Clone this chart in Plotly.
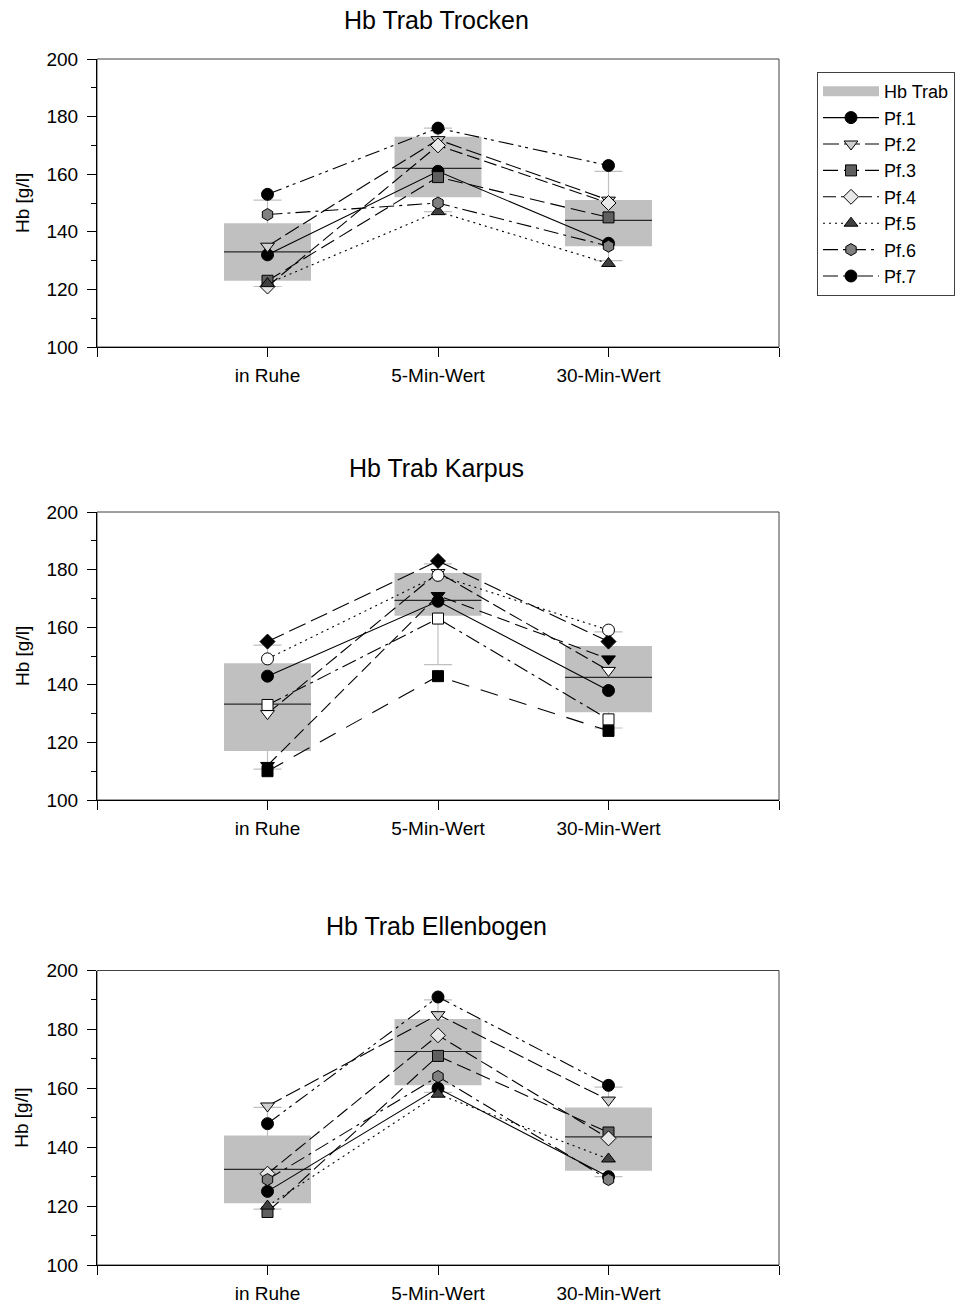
import plotly.graph_objects as go

# ---------------- data ----------------
categories = ["in Ruhe", "5-Min-Wert", "30-Min-Wert"]
cat_pos = [1, 2, 3]
series_names = ["Pf.1", "Pf.2", "Pf.3", "Pf.4", "Pf.5", "Pf.6", "Pf.7"]
panel_titles = ["Hb Trab Trocken", "Hb Trab Karpus", "Hb Trab Ellenbogen"]

# Hb Trab Trocken
trocken_pf = [
    [132, 161, 136],
    [135, 172, 151],
    [123, 159, 145],
    [121, 170, 150],
    [122, 147, 129],
    [146, 150, 135],
    [153, 176, 163],
]
trocken_q1 = [123, 152, 135]
trocken_median = [133, 162, 144]
trocken_q3 = [143, 173, 151]
trocken_low = [121, 147, 130]
trocken_high = [151, 176, 161]

# Hb Trab Karpus
karpus_pf = [
    [143, 169, 138],
    [130, 179, 145],
    [133, 163, 128],
    [155, 183, 155],
    [149, 178, 159],
    [112, 171, 149],
    [110, 143, 124],
]
karpus_q1 = [117, 164, 130.5]
karpus_median = [133.3, 169.3, 142.6]
karpus_q3 = [147.5, 178.8, 153.5]
karpus_low = [110.7, 147, 125]
karpus_high = [153.8, 182, 158.4]

# Hb Trab Ellenbogen
ellenbogen_pf = [
    [125, 160, 130],
    [154, 185, 156],
    [118, 171, 145],
    [131, 178, 143],
    [120, 158, 136],
    [129, 164, 129],
    [148, 191, 161],
]
ellenbogen_q1 = [121, 161, 132]
ellenbogen_median = [132.5, 172.5, 143.5]
ellenbogen_q3 = [144, 183.5, 153.5]
ellenbogen_low = [119, 158.6, 130]
ellenbogen_high = [153.5, 190, 160.4]

# ---------------- styles ----------------
FONT = "Liberation Sans, Arial, sans-serif"
BOX_GRAY = "#c0c0c0"

std_symbols = ["circle", "triangle-down", "square", "diamond", "triangle-up", "hexagon", "circle"]
std_fills = ["#000000", "#cfcfcf", "#5f5f5f", "#e8e8e8", "#404040", "#808080", "#000000"]
std_sizes = [12, 12, 11, 11.5, 12, 12, 12]
std_dashes = ["solid", "16px,5px", "15px,6px", "13px,5px", "2px,4px",
              "15px,5px,3px,5px", "15px,5px,3px,4px,3px,5px"]

karpus_symbols = ["circle", "triangle-down", "square", "diamond", "circle", "triangle-down", "square"]
karpus_fills = ["#000000", "#ffffff", "#ffffff", "#000000", "#ffffff", "#000000", "#000000"]
karpus_sizes = [12, 12, 11, 11.5, 12, 12, 11]
karpus_dashes = ["solid", "14px,5px", "15px,5px,3px,5px", "18px,6px", "2px,4px",
                 "13px,6px", "18px,12px"]

panels = [
    dict(pf=trocken_pf, q1=trocken_q1, med=trocken_median, q3=trocken_q3,
         low=trocken_low, high=trocken_high,
         symbols=std_symbols, fills=std_fills, sizes=std_sizes, dashes=std_dashes),
    dict(pf=karpus_pf, q1=karpus_q1, med=karpus_median, q3=karpus_q3,
         low=karpus_low, high=karpus_high,
         symbols=karpus_symbols, fills=karpus_fills, sizes=karpus_sizes, dashes=karpus_dashes),
    dict(pf=ellenbogen_pf, q1=ellenbogen_q1, med=ellenbogen_median, q3=ellenbogen_q3,
         low=ellenbogen_low, high=ellenbogen_high,
         symbols=std_symbols, fills=std_fills, sizes=std_sizes, dashes=std_dashes),
]

W, H = 963, 1304
x_dom = [97 / W, 779 / W]
# plot-area pixel rows (top, bottom) of each panel, and title rows
panel_px = [(59, 347), (512, 800), (970.5, 1265)]
title_px = [20, 468, 926]
y_doms = [[1 - b / H, 1 - t / H] for t, b in panel_px]

fig = go.Figure()

for k, p in enumerate(panels):
    xa = "x" if k == 0 else f"x{k + 1}"
    ya = "y" if k == 0 else f"y{k + 1}"
    first = k == 0

    # interquartile box of the group
    fig.add_trace(go.Bar(
        x=cat_pos, y=[h - l for h, l in zip(p["q3"], p["q1"])], base=p["q1"],
        width=0.51, marker=dict(color=BOX_GRAY, line=dict(width=0)),
        showlegend=False, xaxis=xa, yaxis=ya, hoverinfo="skip",
    ))
    # whiskers + median line
    fig.add_trace(go.Scatter(
        x=cat_pos, y=p["med"], mode="markers",
        marker=dict(size=1, opacity=0),
        error_y=dict(type="data", symmetric=False,
                     array=[h - m for h, m in zip(p["high"], p["med"])],
                     arrayminus=[m - l for m, l in zip(p["med"], p["low"])],
                     color=BOX_GRAY, thickness=1.2, width=14),
        error_x=dict(type="constant", value=0.255, color="#2a2a2a", thickness=1.2, width=0),
        showlegend=False, xaxis=xa, yaxis=ya, hoverinfo="skip",
    ))
    if first:
        # legend key for the grey group box
        fig.add_trace(go.Scatter(
            x=[None], y=[None], mode="lines", name="Hb Trab",
            line=dict(color=BOX_GRAY, width=12),
            xaxis=xa, yaxis=ya,
        ))
    for i, vals in enumerate(p["pf"]):
        fig.add_trace(go.Scatter(
            x=cat_pos, y=vals, mode="lines+markers", name=series_names[i],
            line=dict(color="black", width=1.1, dash=p["dashes"][i]),
            marker=dict(symbol=p["symbols"][i], size=p["sizes"][i],
                        color=p["fills"][i], line=dict(color="black", width=1)),
            showlegend=first,
            xaxis=xa, yaxis=ya,
        ))

layout = dict(
    width=W, height=H,
    margin=dict(l=0, r=0, t=0, b=0, autoexpand=False),
    paper_bgcolor="white", plot_bgcolor="white",
    font=dict(family=FONT, size=19, color="black"),
    showlegend=True,
    barmode="overlay",
    legend=dict(
        x=817 / W, y=1 - 72 / H, xanchor="left", yanchor="top",
        bgcolor="white", bordercolor="#404040", borderwidth=1,
        font=dict(family=FONT, size=18, color="black"),
        itemwidth=56, traceorder="normal",
    ),
    shapes=[],
    annotations=[],
)

for k in range(3):
    xk = "xaxis" if k == 0 else f"xaxis{k + 1}"
    yk = "yaxis" if k == 0 else f"yaxis{k + 1}"
    ya = "y" if k == 0 else f"y{k + 1}"
    xa = "x" if k == 0 else f"x{k + 1}"
    layout[xk] = dict(
        domain=x_dom, anchor=ya, range=[0, 4], automargin=False,
        tickmode="array", tickvals=[0, 1, 2, 3, 4],
        ticktext=[""] + categories + [""],
        ticks="outside", ticklen=9, tickcolor="black", tickwidth=1,
        showline=True, linecolor="black", linewidth=1,
        showgrid=False, zeroline=False, fixedrange=True,
        ticklabelstandoff=2,
        tickfont=dict(family=FONT, size=19),
    )
    layout[yk] = dict(
        domain=y_doms[k], anchor=xa, range=[100, 200], automargin=False,
        tickmode="linear", tick0=100, dtick=20,
        ticks="outside", ticklen=9, tickcolor="black", tickwidth=1,
        minor=dict(dtick=10, tick0=100, ticks="outside", ticklen=5, tickcolor="black"),
        showline=True, linecolor="black", linewidth=1,
        showgrid=False, zeroline=False, fixedrange=True,
        ticklabelstandoff=5,
        tickfont=dict(family=FONT, size=19),
    )
    # frame of the plot area
    layout["shapes"].append(dict(
        type="rect", xref=f"{xa} domain", yref=f"{ya} domain",
        x0=0, x1=1, y0=0, y1=1, line=dict(color="#404040", width=1),
        layer="below",
    ))
    top_px, bot_px = panel_px[k]
    layout["annotations"].append(dict(
        text=panel_titles[k], xref="paper", yref="paper",
        x=436 / W, y=1 - title_px[k] / H, xanchor="center", yanchor="middle",
        showarrow=False, font=dict(family=FONT, size=25),
    ))
    layout["annotations"].append(dict(
        text="Hb [g/l]", xref="paper", yref="paper",
        x=22 / W, y=1 - ((top_px + bot_px) / 2) / H, xanchor="center", yanchor="middle",
        textangle=-90, showarrow=False, font=dict(family=FONT, size=19),
    ))

fig.update_layout(**layout)
fig.write_html("out.html")
